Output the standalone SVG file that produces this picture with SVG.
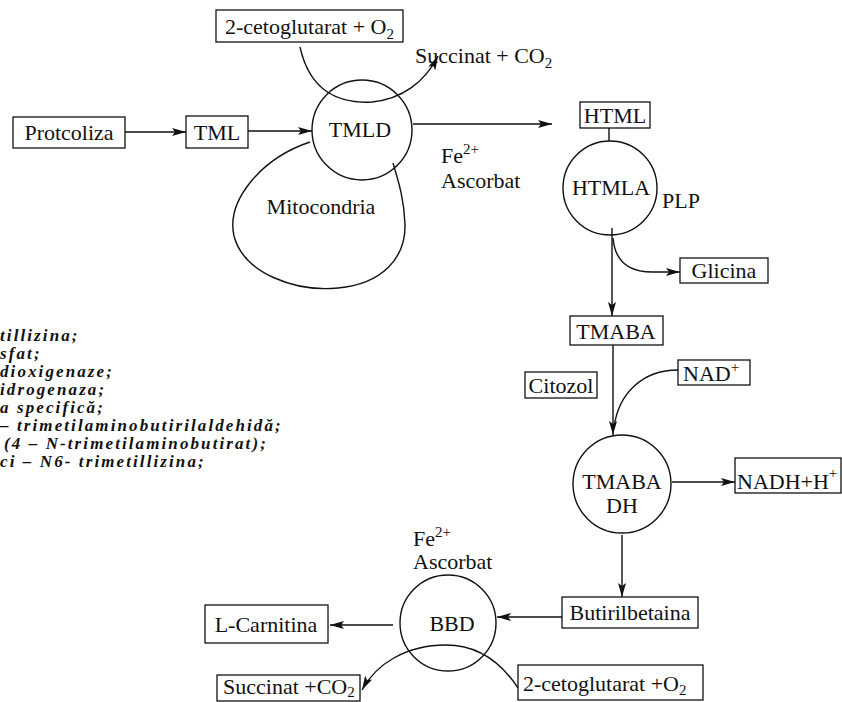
<svg xmlns="http://www.w3.org/2000/svg" width="842" height="702" viewBox="0 0 842 702">
<defs>
<marker id="ah" markerUnits="userSpaceOnUse" markerWidth="16" markerHeight="10" refX="14" refY="5" orient="auto">
<path d="M0,1 L14,5 L0,9 L3,5 Z" fill="#111"/>
</marker>
<style>
text{font-family:"Liberation Serif","Times New Roman",serif;font-size:22px;fill:#111}
.c{text-anchor:middle}
.box{fill:#fff;stroke:#111;stroke-width:1.3}
.circ{fill:none;stroke:#111;stroke-width:1.4}
.ln{fill:none;stroke:#111;stroke-width:1.4}
.ar{fill:none;stroke:#111;stroke-width:1.4;marker-end:url(#ah)}
.leg{font-weight:bold;font-style:italic;font-size:17px;letter-spacing:2.1px}
.sub{font-size:15px}
</style>
</defs>
<rect width="842" height="702" fill="#fff"/>

<g id="connectors">
<path class="ar" d="M125,132 H186"/>
<path class="ar" d="M248,131 H312"/>
<path class="ar" d="M300,47 C310,92 340,104 372,102 C402,99 425,82 438,56"/>
<path class="ar" d="M413,124 H552"/>
<path class="ln" d="M310,142 C262,158 226,200 234,236 C244,274 296,292 338,288 C382,284 406,258 405,224 C404,198 398,180 393,163"/>
<path class="ln" d="M609,128 V141"/>
<path class="ar" d="M612,228 V316"/>
<path class="ar" d="M613,238 C615,262 630,272 652,272 H680"/>
<path class="ar" d="M613,345 V435"/>
<path class="ln" d="M678,370 C642,370 618,394 614,428"/>
<path class="ar" d="M672,482 H735"/>
<path class="ar" d="M622,535 V597"/>
<path class="ar" d="M562,617 H497"/>
<path class="ar" d="M393,625 H330"/>
<path class="ar" d="M518,688 C497,656 472,645 446,645 C406,645 376,664 362,690"/>
</g>

<g id="n-cetoglutarat-top"><rect class="box" x="216" y="10" width="187" height="32"/><text x="225" y="34">2-cetoglutarat + O<tspan class="sub" dy="5">2</tspan></text></g>
<g id="n-succinat-top"><text x="415" y="63">Succinat + CO<tspan class="sub" dy="5">2</tspan></text></g>
<g id="n-protcoliza"><rect class="box" x="13" y="117" width="112" height="31"/><text class="c" x="69" y="140">Protcoliza</text></g>
<g id="n-tml"><rect class="box" x="186" y="116" width="62" height="32"/><text class="c" x="217" y="140">TML</text></g>
<g id="n-tmld"><circle class="circ" cx="362" cy="130" r="50"/><text class="c" x="360" y="137">TMLD</text></g>
<g id="n-cofactor1"><text x="441" y="163">Fe<tspan class="sub" dy="-9">2+</tspan></text><text x="441" y="188">Ascorbat</text></g>
<g id="n-mitocondria"><text class="c" x="321" y="214">Mitocondria</text></g>
<g id="n-html"><rect class="box" x="580" y="102" width="70" height="26"/><text class="c" x="615" y="123">HTML</text></g>
<g id="n-htmla"><circle class="circ" cx="610" cy="188" r="47"/><text class="c" x="611" y="195">HTMLA</text><text x="662" y="208">PLP</text></g>
<g id="n-glicina"><rect class="box" x="680" y="258" width="88" height="25"/><text class="c" x="724" y="278">Glicina</text></g>
<g id="n-tmaba"><rect class="box" x="570" y="316" width="93" height="29"/><text class="c" x="616" y="339">TMABA</text></g>
<g id="n-citozol"><rect class="box" x="525" y="372" width="72" height="26"/><text class="c" x="561" y="393">Citozol</text></g>
<g id="n-nad"><rect class="box" x="678" y="360" width="72" height="25"/><text x="683" y="381">NAD<tspan class="sub" dy="-9">+</tspan></text></g>
<g id="n-tmabadh"><circle class="circ" cx="622" cy="484" r="49"/><text class="c" x="622" y="489">TMABA</text><text class="c" x="622" y="513">DH</text></g>
<g id="n-nadh"><rect class="box" x="735" y="458" width="106" height="35"/><text x="737" y="489">NADH+H<tspan class="sub" dy="-11">+</tspan></text></g>
<g id="n-butirilbetaina"><rect class="box" x="562" y="597" width="136" height="31"/><text class="c" x="630" y="620">Butirilbetaina</text></g>
<g id="n-bbd"><circle class="circ" cx="448" cy="623" r="48"/><text class="c" x="452" y="631">BBD</text></g>
<g id="n-cofactor2"><text x="413" y="546">Fe<tspan class="sub" dy="-9">2+</tspan></text><text x="413" y="569">Ascorbat</text></g>
<g id="n-lcarnitina"><rect class="box" x="205" y="605" width="123" height="38"/><text class="c" x="266" y="632">L-Carnitina</text></g>
<g id="n-succinat-bottom"><rect class="box" x="217" y="675" width="143" height="26"/><text x="223" y="694">Succinat +CO<tspan class="sub" dy="3">2</tspan></text></g>
<g id="n-cetoglutarat-bottom"><rect class="box" x="518" y="665" width="185" height="35"/><text x="523" y="691">2-cetoglutarat +O<tspan class="sub" dy="4">2</tspan></text></g>

<g id="legend">
<text class="leg" x="0" y="341">tillizina;</text>
<text class="leg" x="0" y="359">sfat;</text>
<text class="leg" x="0" y="377">dioxigenaze;</text>
<text class="leg" x="0" y="395">idrogenaza;</text>
<text class="leg" x="0" y="413">a specifică;</text>
<text class="leg" x="0" y="431">– trimetilaminobutirilaldehidă;</text>
<text class="leg" x="4" y="449">(4 – N-trimetilaminobutirat);</text>
<text class="leg" x="0" y="467">ci – N6- trimetillizina;</text>
</g>
</svg>
